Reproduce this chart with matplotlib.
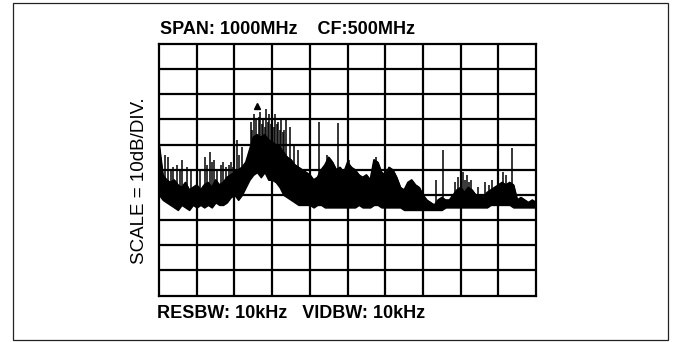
import matplotlib

matplotlib.use("Agg")
import matplotlib.pyplot as plt
from matplotlib.patches import Rectangle
import numpy as np

# trace body, read every 10 MHz, in divisions above the bottom graticule line
freq_mhz = np.arange(0, 1001, 10)
body_top = [
    6.0, 4.8, 4.6, 4.5, 4.6, 4.4, 4.3, 4.5, 4.2, 4.3,
    4.4, 4.2, 4.4, 4.5, 4.3, 4.6, 4.4, 4.5, 4.7, 4.8,
    4.9, 5.0, 5.1, 5.3, 5.8, 6.3, 6.4, 6.3, 6.4, 6.2,
    6.1, 6.0, 5.9, 5.7, 5.5, 5.4, 5.2, 5.1, 5.0, 4.9,
    4.8, 4.6, 4.7, 5.0, 5.2, 5.5, 5.3, 5.0, 5.1, 4.9,
    5.3, 5.1, 5.0, 4.8, 4.7, 4.8, 4.6, 5.4, 5.3, 4.9,
    4.8, 5.1, 5.0, 4.7, 4.3, 4.2, 4.5, 4.6, 4.4, 4.3,
    4.0, 3.8, 3.7, 3.6, 3.8, 3.9, 3.8, 3.8, 4.0, 4.2,
    4.3, 4.1, 4.3, 4.2, 4.0, 4.0, 3.9, 4.1, 4.2, 4.3,
    4.4, 4.5, 4.4, 4.5, 4.4, 3.8, 3.9, 3.8, 3.7, 3.8,
    3.7,
]
body_bottom = [
    4.0, 3.8, 3.7, 3.6, 3.5, 3.4, 3.6, 3.5, 3.4, 3.6,
    3.5, 3.6, 3.5, 3.6, 3.5, 3.7, 3.6, 3.6, 3.7, 3.9,
    4.0, 3.8, 4.0, 4.3, 4.6, 4.8, 4.9, 4.7, 4.9, 4.6,
    4.6, 4.5, 4.3, 4.0, 3.9, 3.8, 3.7, 3.6, 3.6, 3.6,
    3.6, 3.5, 3.6, 3.6, 3.5, 3.5, 3.5, 3.5, 3.5, 3.5,
    3.5, 3.5, 3.5, 3.6, 3.5, 3.5, 3.5, 3.6, 3.6, 3.5,
    3.5, 3.5, 3.5, 3.5, 3.5, 3.4, 3.4, 3.4, 3.4, 3.4,
    3.4, 3.4, 3.4, 3.4, 3.4, 3.4, 3.5, 3.5, 3.5, 3.5,
    3.5, 3.5, 3.5, 3.5, 3.5, 3.5, 3.5, 3.5, 3.6, 3.6,
    3.6, 3.6, 3.6, 3.6, 3.5, 3.5, 3.5, 3.5, 3.5, 3.5,
    3.5,
]

# thin needles standing above the body
spike_mhz = [16, 25, 32, 38, 48, 55, 61, 75, 85, 100, 110, 122, 128, 135, 140, 146,
             155, 165, 170, 178, 185, 190, 197, 207, 212, 220,
             244, 248, 252, 256, 264, 268, 272, 276, 280, 284, 288, 292, 296, 300,
             304, 308, 312, 316, 320, 324, 328, 332, 337, 347, 358, 369,
             424, 445, 475, 505, 575, 735, 753,
             785, 793, 800, 806, 812, 817, 823, 828, 845, 865, 875, 883, 898, 912, 920, 936]
spike_top = [5.6, 5.5, 5.0, 5.1, 5.2, 5.0, 5.4, 5.1, 5.0, 5.1, 5.0, 5.5, 5.2, 5.7, 5.3, 5.4,
             5.0, 5.2, 5.3, 5.1, 5.2, 5.3, 5.1, 6.2, 5.6, 5.9,
             6.9, 6.6, 7.2, 7.0, 7.1, 7.3, 6.8, 7.0, 6.7, 7.4, 6.9, 7.2, 6.8, 7.1,
             6.7, 7.2, 6.8, 6.9, 6.6, 7.0, 6.5, 6.6, 7.0, 6.7, 6.0, 5.8,
             6.9, 5.6, 6.85, 5.4, 5.5, 4.6, 5.8,
             4.5, 4.7, 4.6, 4.9, 4.6, 4.8, 4.5, 4.6, 4.3, 4.5, 4.4, 4.6, 4.5, 4.9, 4.8, 5.85]

marker_mhz = 259
marker_level = 7.55

top_text = "SPAN: 1000MHz    CF:500MHz"
bottom_text = "RESBW: 10kHz   VIDBW: 10kHz"
side_text = "SCALE = 10dB/DIV."

W, H = 676, 342
fig = plt.figure(figsize=(W / 100, H / 100), dpi=100)
fig.patch.set_facecolor("white")

# outer frame of the scanned figure
fig.patches.append(Rectangle((13 / W, 2 / H), (668 - 13) / W, (339 - 2) / H,
                             transform=fig.transFigure, fill=False,
                             edgecolor="#222222", linewidth=0.9))

ax = fig.add_axes([159 / W, 1 - 295.5 / H, (536 - 159) / W, (295.5 - 44) / H])
ax.set_xlim(0, 1000)
ax.set_ylim(0, 10)
for x in np.arange(100, 1000, 100):
    ax.axvline(x, color="black", linewidth=1.6, zorder=1)
for y in np.arange(1, 10):
    ax.axhline(y, color="black", linewidth=1.6, zorder=1)
for s in ax.spines.values():
    s.set_linewidth(1.6)
ax.set_xticks([])
ax.set_yticks([])

ax.fill_between(freq_mhz, body_bottom, body_top, color="black", linewidth=1.0, zorder=3)
ax.plot(freq_mhz, body_top, color="black", linewidth=1.0, zorder=3)
ax.vlines(spike_mhz, np.interp(spike_mhz, freq_mhz, body_top) - 0.3, spike_top,
          color="black", linewidth=1.1, zorder=3)
ax.plot([marker_mhz], [marker_level], marker="^", color="black", markersize=5, zorder=4)

fam = ["Liberation Sans", "DejaVu Sans"]
fig.text(160 / W, 1 - 30 / H, top_text, fontsize=13, fontweight="bold",
         family=fam, ha="left", va="center")
fig.text(157 / W, 1 - 313 / H, bottom_text, fontsize=13, fontweight="bold",
         family=fam, ha="left", va="center")
fig.text(140 / W, 1 - 181 / H, side_text, fontsize=13.5, rotation=90,
         family=fam, ha="center", va="center")

fig.savefig("out.png", dpi=100)
